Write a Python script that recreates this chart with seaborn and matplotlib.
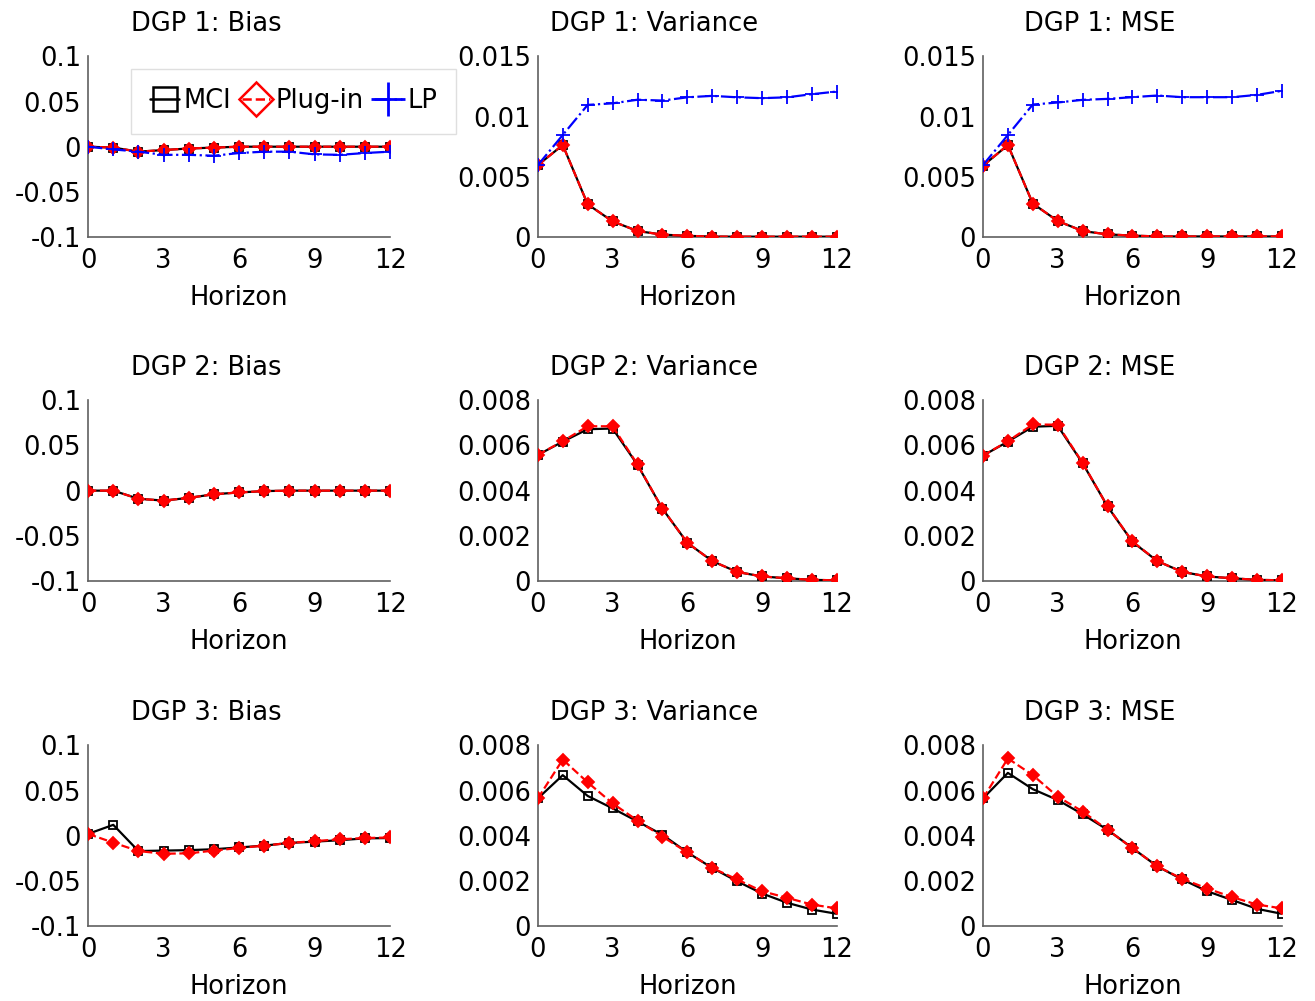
import numpy as np
import pandas as pd
import seaborn as sns
import matplotlib.pyplot as plt
from matplotlib.lines import Line2D

sns.set_style("white")
plt.rcParams['font.family'] = ['DejaVu Sans']
plt.rcParams['font.size'] = 18
plt.rcParams['text.color'] = 'black'
plt.rcParams['xtick.color'] = 'black'
plt.rcParams['ytick.color'] = 'black'
plt.rcParams['axes.labelcolor'] = 'black'

# Horizons
horizon = list(range(13))

# DGP 1
dgp1_bias_mci = [0.0, -0.001, -0.0055, -0.0037, -0.002, -0.001, 0.0, 0.0, 0.0, 0.0, 0.0, 0.0, 0.0]
dgp1_bias_plug = [0.0, -0.001, -0.0055, -0.0037, -0.002, -0.001, 0.0, 0.0, 0.0, 0.0, 0.0, 0.0, 0.0]
dgp1_bias_lp = [0.0, -0.003, -0.0055, -0.009, -0.009, -0.010, -0.007, -0.0055, -0.0055, -0.0085, -0.009, -0.007, -0.0055]
dgp1_var_mci = [0.00597, 0.00764, 0.00272, 0.0013, 0.0005, 0.0002, 0.0001, 0.00004, 0.00003, 0.00003, 0.00003, 0.00003, 0.00003]
dgp1_var_plug = [0.00597, 0.00764, 0.00272, 0.0013, 0.0005, 0.0002, 0.0001, 0.00004, 0.00003, 0.00003, 0.00003, 0.00003, 0.00003]
dgp1_var_lp = [0.00597, 0.00847, 0.01097, 0.0111, 0.0114, 0.01133, 0.0116, 0.01172, 0.0116, 0.01153, 0.0116, 0.01186, 0.01208]
dgp1_mse_mci = [0.00592, 0.00764, 0.00278, 0.00133, 0.0005, 0.00022, 0.00012, 0.00005, 0.00005, 0.00005, 0.00005, 0.00005, 0.00005]
dgp1_mse_plug = [0.00592, 0.00764, 0.00278, 0.00133, 0.0005, 0.00022, 0.00012, 0.00005, 0.00005, 0.00005, 0.00005, 0.00005, 0.00005]
dgp1_mse_lp = [0.00597, 0.00847, 0.0110, 0.01117, 0.01139, 0.01147, 0.01161, 0.01175, 0.01161, 0.01161, 0.01161, 0.0118, 0.01214]

# DGP 2
dgp2_bias_mci = [0.0, 0.0, -0.009, -0.011, -0.008, -0.004, -0.002, -0.0005, 0.0, 0.0, 0.0, 0.0, 0.0]
dgp2_bias_plug = [0.0, 0.0, -0.009, -0.011, -0.008, -0.004, -0.002, -0.0005, 0.0, 0.0, 0.0, 0.0, 0.0]
dgp2_var_mci = [0.00558, 0.00617, 0.00672, 0.00675, 0.00514, 0.0032, 0.00169, 0.00088, 0.0004, 0.0002, 0.00012, 0.00005, 0.00003]
dgp2_var_plug = [0.00558, 0.00619, 0.00685, 0.00685, 0.00516, 0.0032, 0.00169, 0.00088, 0.0004, 0.0002, 0.00012, 0.00005, 0.00003]
dgp2_mse_mci = [0.00555, 0.00617, 0.00683, 0.00687, 0.00521, 0.0033, 0.00173, 0.00088, 0.0004, 0.0002, 0.00012, 0.00005, 0.00003]
dgp2_mse_plug = [0.00555, 0.00619, 0.00693, 0.00692, 0.00523, 0.0033, 0.00175, 0.00088, 0.0004, 0.0002, 0.00012, 0.00005, 0.00003]

# DGP 3
dgp3_bias_mci = [0.002, 0.012, -0.017, -0.0165, -0.016, -0.015, -0.013, -0.011, -0.008, -0.0066, -0.005, -0.003, -0.0026]
dgp3_bias_plug = [0.002, -0.0077, -0.017, -0.020, -0.0195, -0.0165, -0.0136, -0.011, -0.008, -0.006, -0.004, -0.0026, -0.002]
dgp3_var_mci = [0.00565, 0.00668, 0.00576, 0.00521, 0.00463, 0.00404, 0.00326, 0.00257, 0.00198, 0.00144, 0.00103, 0.00073, 0.00054]
dgp3_var_plug = [0.00565, 0.00737, 0.00636, 0.00543, 0.00467, 0.00396, 0.00326, 0.00257, 0.00206, 0.00154, 0.00125, 0.00095, 0.00078]
dgp3_mse_mci = [0.00565, 0.00678, 0.00606, 0.00558, 0.00495, 0.00426, 0.00345, 0.00264, 0.00206, 0.00154, 0.00115, 0.00076, 0.00054]
dgp3_mse_plug = [0.00565, 0.00742, 0.00668, 0.00573, 0.00507, 0.00426, 0.00345, 0.00264, 0.00209, 0.00166, 0.00128, 0.00095, 0.00078]

# Axis ticks
x_ticks = [0, 3, 6, 9, 12]
bias_ticks = [-0.1, -0.05, 0, 0.05, 0.1]
bias_labels = ["-0.1", "-0.05", "0", "0.05", "0.1"]
var1_ticks = [0, 0.005, 0.01, 0.015]
var1_labels = ["0", "0.005", "0.01", "0.015"]
var23_ticks = [0, 0.002, 0.004, 0.006, 0.008]
var23_labels = ["0", "0.002", "0.004", "0.006", "0.008"]

panels = [
    ("DGP 1: Bias", [dgp1_bias_mci, dgp1_bias_plug, dgp1_bias_lp], bias_ticks, bias_labels),
    ("DGP 1: Variance", [dgp1_var_mci, dgp1_var_plug, dgp1_var_lp], var1_ticks, var1_labels),
    ("DGP 1: MSE", [dgp1_mse_mci, dgp1_mse_plug, dgp1_mse_lp], var1_ticks, var1_labels),
    ("DGP 2: Bias", [dgp2_bias_mci, dgp2_bias_plug], bias_ticks, bias_labels),
    ("DGP 2: Variance", [dgp2_var_mci, dgp2_var_plug], var23_ticks, var23_labels),
    ("DGP 2: MSE", [dgp2_mse_mci, dgp2_mse_plug], var23_ticks, var23_labels),
    ("DGP 3: Bias", [dgp3_bias_mci, dgp3_bias_plug], bias_ticks, bias_labels),
    ("DGP 3: Variance", [dgp3_var_mci, dgp3_var_plug], var23_ticks, var23_labels),
    ("DGP 3: MSE", [dgp3_mse_mci, dgp3_mse_plug], var23_ticks, var23_labels),
]

# style of each method: (name, color, marker, linestyle, face)
styles = [
    ("MCI", "black", "s", "-", "none"),
    ("Plug-in", "red", "D", "--", "red"),
    ("LP", "blue", "+", "-.", "blue"),
]

fig = plt.figure(figsize=(13.15, 10.01), dpi=100)

lefts = [0.067, 0.409, 0.7475]
widths = [0.2297, 0.2274, 0.2274]
bottoms = [0.7632, 0.4196, 0.0749]
height = 0.1805

spine_col = "#606060"

for i, (title, series, yt, yl) in enumerate(panels):
    r, c = divmod(i, 3)
    ax = fig.add_axes([lefts[c], bottoms[r], widths[c], height])
    for k, y in enumerate(series):
        name, col, mk, ls, face = styles[k]
        sns.lineplot(x=horizon, y=y, ax=ax, color=col, marker=mk, linestyle=ls,
                     linewidth=1.6, markersize=6 if mk != "+" else 10,
                     markerfacecolor=face, markeredgecolor=col,
                     markeredgewidth=1.3, zorder=3 + k)
    ax.set_xlim(0, 12)
    ax.set_ylim(yt[0], yt[-1])
    ax.set_xticks(x_ticks)
    ax.set_xticklabels([str(t) for t in x_ticks])
    ax.set_yticks(yt)
    ax.set_yticklabels(yl)
    ax.set_title(title, fontsize=18.5, pad=18, x=0.39)
    ax.set_xlabel("Horizon", fontsize=18.5, labelpad=8)
    ax.set_ylabel("")
    for s in ["top", "right"]:
        ax.spines[s].set_visible(False)
    for s in ["left", "bottom"]:
        ax.spines[s].set_color(spine_col)
        ax.spines[s].set_linewidth(1.2)
    ax.tick_params(axis="x", direction="in", length=5, color=spine_col, labelsize=18.5, pad=8)
    ax.tick_params(axis="y", direction="out", length=4, color=spine_col, labelsize=18.5, pad=1)
    ax.set_facecolor("white")

    if i == 0:
        handles = [Line2D([], [], color="black", marker="s", linestyle="-", markersize=17,
                          markerfacecolor="none", markeredgewidth=1.8, linewidth=1.8),
                   Line2D([], [], color="red", marker="D", linestyle="--", markersize=17,
                          markerfacecolor="none", markeredgewidth=1.8, linewidth=1.8),
                   Line2D([], [], color="blue", marker="+", linestyle="-.", markersize=24,
                          markeredgewidth=2, linewidth=1.8)]
        leg = ax.legend(handles, ["MCI", "Plug-in", "LP"], ncol=3, loc="upper left",
                        bbox_to_anchor=(0.10, 1.0), frameon=True, fontsize=18.5,
                        handlelength=1.1, handletextpad=0.2, columnspacing=0.4,
                        borderpad=0.75, fancybox=False)
        leg.get_frame().set_edgecolor("#d8d8d8")
        leg.get_frame().set_linewidth(1.0)
        leg.set_zorder(10)

plt.savefig("out.png", dpi=100, facecolor="white")
